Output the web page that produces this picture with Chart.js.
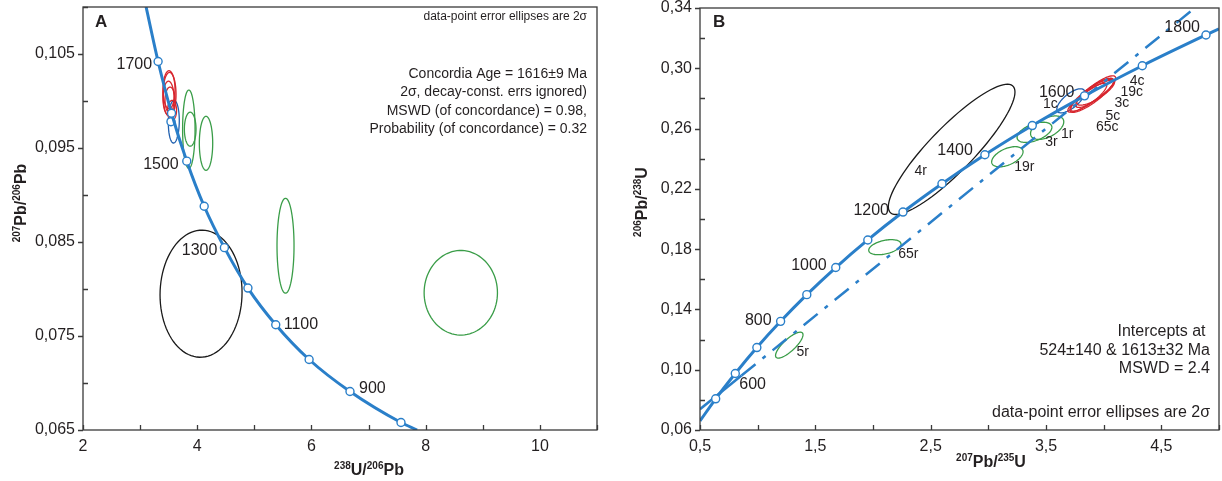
<!DOCTYPE html>
<html>
<head>
<meta charset="utf-8">
<script src="https://cdn.jsdelivr.net/npm/chart.js@4.4.0/dist/chart.umd.min.js"></script>
<style>
  html, body { margin: 0; padding: 0; background: #fff; }
  #boxA { position: absolute; left: 0; top: 0; }
  #boxB { position: absolute; left: 610px; top: 0; }
</style>
</head>
<body>
<div id="boxA"><canvas id="chartA" width="610" height="481"></canvas></div>
<div id="boxB"><canvas id="chartB" width="612" height="481"></canvas></div>
<script>
// zircon spots (same order in both diagrams)
const spots = ['1c', '3c', '4c', '5c', '19c', '65c', '1r', '3r', '4r', '5r', '19r', '65r'];

// A: Tera-Wasserburg, 238U/206Pb vs 207Pb/206Pb, 2 sigma half widths
const twX    = [3.590, 3.515, 3.497, 3.524, 3.559, 3.506, 3.853, 3.877, 4.067, 8.615, 4.154, 5.546];
const twXErr = [0.096, 0.114, 0.096, 0.088, 0.079, 0.105, 0.109, 0.102, 0.718, 0.642, 0.117, 0.149];
const twY    = [0.0978, 0.1007, 0.1003, 0.1001, 0.0990, 0.1012, 0.0970, 0.0970, 0.0795, 0.0796, 0.0955, 0.0846];
const twYErr = [0.00227, 0.00234, 0.00181, 0.00138, 0.00106, 0.00202, 0.00417, 0.00181, 0.00676, 0.00450, 0.00287, 0.00505];
const twRho  = [0.05, 0, 0, 0, 0, 0, 0, 0, 0.02, 0, 0, 0];

// B: Wetherill, 207Pb/235U vs 206Pb/238U
const wX    = [3.715, 3.897, 3.931, 3.871, 3.931, 3.888, 3.510, 3.400, 2.682, 1.274, 3.165, 2.103];
const wXErr = [0.121, 0.190, 0.173, 0.156, 0.164, 0.199, 0.144, 0.151, 0.549, 0.119, 0.136, 0.140];
const wY    = [0.2784, 0.2821, 0.2845, 0.2808, 0.2841, 0.2815, 0.2606, 0.2575, 0.2462, 0.1163, 0.2413, 0.1813];
const wYErr = [0.0080, 0.0113, 0.0105, 0.0093, 0.0086, 0.0106, 0.0078, 0.0067, 0.0432, 0.0086, 0.0067, 0.0050];
const wRho  = [0.7, 0.85, 0.85, 0.85, 0.8, 0.9, 0.5, 0.5, 0.88, 0.8, 0.5, 0.4];

// concordia age marks, A
const twAges = [1700, 1600, 1500, 1400, 1300, 1200, 1100, 1000, 900, 800];
const twAgeX = [3.315, 3.550, 3.817, 4.122, 4.476, 4.888, 5.375, 5.959, 6.675, 7.568];
const twAgeY = [0.1042, 0.0987, 0.0936, 0.0888, 0.0844, 0.0801, 0.0762, 0.0725, 0.0691, 0.0658];
const twCurveStart = [3.105, 0.1100];
const twCurveEnd = [7.85, 0.0650];
const twExtraPoint = [3.54, 0.0978];

// concordia age marks, B
const wAges = [500, 600, 700, 800, 900, 1000, 1100, 1200, 1300, 1400, 1500, 1600, 1700, 1800];
const wAgeX = [0.636, 0.806, 0.993, 1.199, 1.426, 1.677, 1.955, 2.260, 2.598, 2.970, 3.381, 3.834, 4.335, 4.887];
const wAgeY = [0.0807, 0.0975, 0.1147, 0.1321, 0.1498, 0.1678, 0.1861, 0.2046, 0.2234, 0.2426, 0.2620, 0.2817, 0.3017, 0.3221];
const wCurveStart = [0.5, 0.0660];
const wCurveEnd = [5.0, 0.3261];

// discordia (intercepts 524 and 1613 Ma)
const discX = [0.5, 0.86, 4.79];
const discY = [0.0738, 0.0961, 0.34];

const textA = ['Concordia Age = 1616\u00b19 Ma', '2\u03c3, decay-const. errs ignored)', 'MSWD (of concordance) = 0.98,', 'Probability (of concordance) = 0.32'];
const textB = ['Intercepts at ', '524\u00b1140 & 1613\u00b132 Ma', 'MSWD = 2.4'];
const noteText = 'data-point error ellipses are 2\u03c3';

// ---- styles ----
const FONT = "'Liberation Sans', Arial, Helvetica, sans-serif";
const INK = '#231f20';
const CURVE = '#2a7fc9';
const spotColor = ['#1f5fae', '#d7262e', '#d7262e', '#d7262e', '#d7262e', '#d7262e',
                   '#3a9d48', '#3a9d48', '#1a1a1a', '#3a9d48', '#3a9d48', '#3a9d48'];

// label offsets in px: [dx, dy, align]
const twAgeLabels = { 1700: [-6, 3, 'right'], 1500: [-8, 3, 'right'], 1300: [-7, 3, 'right'], 1100: [8, 0, 'left'], 900: [9, -3, 'left'] };
const wAgeLabels = { 1800: [-6, -7, 'right'], 1600: [-10, -3, 'right'], 1400: [-12, -4, 'right'], 1200: [-14, -1.5, 'right'],
                     1000: [-9, -2, 'right'], 800: [-9, -1, 'right'], 600: [4, 11, 'left'] };
const wSpotLabels = { '4r': [-31, 22], '65r': [23.5, 6.5], '5r': [13.5, 7], '19r': [17, 10], '3r': [17, 10], '1r': [20, 6],
                      '1c': [-20.5, 3.5], '4c': [41.5, -10.4], '19c': [36, 0], '3c': [30, 8], '5c': [24, 19], '65c': [16.5, 31] };

function pts(xs, ys) { return xs.map((v, i) => ({ x: v, y: ys[i] })); }
function fmt(v, d) { return v.toFixed(d).replace('.', ','); }

function concordia(start, xs, ys, end) {
  return [{ x: start[0], y: start[1] }].concat(pts(xs, ys), [{ x: end[0], y: end[1] }]);
}

function drawEllipses(chart, cx, sx, cy, sy, rho) {
  const { ctx, chartArea: a, scales: { x, y } } = chart;
  ctx.save();
  ctx.beginPath();
  ctx.rect(a.left, a.top, a.right - a.left, a.bottom - a.top);
  ctx.clip();
  ctx.lineWidth = 1.3;
  cx.forEach((c, i) => {
    const q = Math.sqrt(1 - rho[i] * rho[i]);
    ctx.beginPath();
    for (let k = 0; k <= 90; k++) {
      const t = k / 90 * 2 * Math.PI;
      const px = x.getPixelForValue(c + sx[i] * Math.cos(t));
      const py = y.getPixelForValue(cy[i] + sy[i] * (rho[i] * Math.cos(t) + q * Math.sin(t)));
      if (k === 0) ctx.moveTo(px, py); else ctx.lineTo(px, py);
    }
    ctx.closePath();
    ctx.strokeStyle = spotColor[i];
    ctx.stroke();
  });
  ctx.restore();
}

function drawFrame(chart) {
  const { ctx, chartArea: a, scales: { x, y } } = chart;
  ctx.save();
  ctx.strokeStyle = '#3a3a3a';
  ctx.lineWidth = 1.3;
  ctx.strokeRect(a.left, a.top, a.right - a.left, a.bottom - a.top);
  ctx.beginPath();
  x.ticks.forEach(t => {
    const px = Math.round(x.getPixelForValue(t.value)) + 0.5;
    ctx.moveTo(px, a.bottom); ctx.lineTo(px, a.bottom - 5);
  });
  y.ticks.forEach(t => {
    const py = Math.round(y.getPixelForValue(t.value)) + 0.5;
    if (t.label !== '') { ctx.moveTo(a.left - 5, py); ctx.lineTo(a.left, py); }
    else { ctx.moveTo(a.left, py); ctx.lineTo(a.left + 5, py); }
  });
  ctx.stroke();
  ctx.restore();
}

// text with superscript parts: [[text, isSup], ...]
function richText(ctx, parts, x, y, rot) {
  ctx.save();
  ctx.translate(x, y);
  if (rot) ctx.rotate(rot);
  const big = 'bold 16px ' + FONT, small = 'bold 10px ' + FONT;
  let w = 0;
  parts.forEach(p => { ctx.font = p[1] ? small : big; w += ctx.measureText(p[0]).width; });
  let cx = -w / 2;
  ctx.fillStyle = INK;
  ctx.textBaseline = 'alphabetic';
  ctx.textAlign = 'left';
  parts.forEach(p => {
    ctx.font = p[1] ? small : big;
    ctx.fillText(p[0], cx, p[1] ? -6 : 0);
    cx += ctx.measureText(p[0]).width;
  });
  ctx.restore();
}

function label(ctx, s, x, y, align, size, weight) {
  ctx.font = (weight || 'normal') + ' ' + size + 'px ' + FONT;
  ctx.fillStyle = INK;
  ctx.textAlign = align;
  ctx.textBaseline = 'middle';
  ctx.fillText(s, x, y);
}

function axisCfg(min, max, step, dec, size, isX) {
  return {
    type: 'linear', min: min, max: max,
    border: { display: false },
    grid: { display: false, drawTicks: false },
    ticks: {
      stepSize: step, autoSkip: false, maxRotation: 0, padding: isX ? 7 : 8,
      color: INK, font: { family: FONT, size: 16 },
      callback: (v, i) => (i % 2 === 0 ? fmt(v, dec) : '')
    },
    afterFit: s => {
      if (isX) s.height = 51; else s.width = size;
      s.paddingTop = 0; s.paddingBottom = 0; s.paddingLeft = 0; s.paddingRight = 0;
    }
  };
}

const markerStyle = {
  showLine: true, borderColor: CURVE, borderWidth: 3, cubicInterpolationMode: 'monotone',
  pointBackgroundColor: '#fff', pointBorderColor: CURVE, pointBorderWidth: 1.4
};

// ---------- A ----------
const concA = concordia(twCurveStart, twAgeX, twAgeY, twCurveEnd);
new Chart('chartA', {
  type: 'scatter',
  data: {
    datasets: [
      Object.assign({ data: concA, pointRadius: concA.map((p, i) => (i === 0 || i === concA.length - 1) ? 0 : 4) }, markerStyle),
      { data: [{ x: twExtraPoint[0], y: twExtraPoint[1] }], pointRadius: 4, pointBackgroundColor: '#fff', pointBorderColor: CURVE, pointBorderWidth: 1.4 }
    ]
  },
  options: {
    responsive: false, animation: false,
    layout: { padding: { top: 7, right: 13, left: 0, bottom: 0 } },
    plugins: { legend: { display: false }, tooltip: { enabled: false } },
    scales: { x: axisCfg(2, 11, 1, 0, 0, true), y: axisCfg(0.065, 0.110, 0.005, 3, 83, false) }
  },
  plugins: [{
    id: 'tw',
    beforeDatasetsDraw(chart) { drawEllipses(chart, twX, twXErr, twY, twYErr, twRho); },
    afterDraw(chart) {
      const { ctx, chartArea: a, scales: { x, y } } = chart;
      drawFrame(chart);
      twAges.forEach((age, i) => {
        const o = twAgeLabels[age];
        if (!o) return;
        label(ctx, String(age), x.getPixelForValue(twAgeX[i]) + o[0], y.getPixelForValue(twAgeY[i]) + o[1], o[2], 16);
      });
      label(ctx, 'A', 95, 22, 'left', 17, 'bold');
      label(ctx, noteText, a.right - 10, 17, 'right', 12);
      textA.forEach((s, i) => label(ctx, s, a.right - 10, 74 + i * 18.5, 'right', 14));
      richText(ctx, [['238', 1], ['U/', 0], ['206', 1], ['Pb', 0]], 369, 475, 0);
      richText(ctx, [['207', 1], ['Pb/', 0], ['206', 1], ['Pb', 0]], 25.5, 203, -Math.PI / 2);
    }
  }]
});

// ---------- B ----------
const concB = concordia(wCurveStart, wAgeX, wAgeY, wCurveEnd);
new Chart('chartB', {
  type: 'scatter',
  data: {
    datasets: [
      Object.assign({ data: concB, pointRadius: concB.map((p, i) => (i === 0 || i === concB.length - 1) ? 0 : 4) }, markerStyle),
      { data: pts(discX.slice(0, 2), discY.slice(0, 2)), showLine: true, borderColor: CURVE, borderWidth: 2.5, pointRadius: 0 },
      { data: pts(discX.slice(1), discY.slice(1)), showLine: true, borderColor: CURVE, borderWidth: 2.5, pointRadius: 0, borderDash: [18, 9, 4, 9] }
    ]
  },
  options: {
    responsive: false, animation: false,
    layout: { padding: { top: 8, right: 3, left: 0, bottom: 0 } },
    plugins: { legend: { display: false }, tooltip: { enabled: false } },
    scales: { x: axisCfg(0.5, 5.0, 0.5, 1, 0, true), y: axisCfg(0.06, 0.34, 0.02, 2, 90, false) }
  },
  plugins: [{
    id: 'wet',
    beforeDatasetsDraw(chart) { drawEllipses(chart, wX, wXErr, wY, wYErr, wRho); },
    afterDraw(chart) {
      const { ctx, chartArea: a, scales: { x, y } } = chart;
      drawFrame(chart);
      wAges.forEach((age, i) => {
        const o = wAgeLabels[age];
        if (!o) return;
        label(ctx, String(age), x.getPixelForValue(wAgeX[i]) + o[0], y.getPixelForValue(wAgeY[i]) + o[1], o[2], 16);
      });
      spots.forEach((s, i) => {
        const o = wSpotLabels[s];
        label(ctx, s, x.getPixelForValue(wX[i]) + o[0], y.getPixelForValue(wY[i]) + o[1], 'center', 14);
      });
      label(ctx, 'B', 103, 22, 'left', 17, 'bold');
      textB.forEach((s, i) => label(ctx, s, a.right - 9, 332 + i * 18.5, 'right', 16));
      label(ctx, noteText, a.right - 9, 413, 'right', 16);
      richText(ctx, [['207', 1], ['Pb/', 0], ['235', 1], ['U', 0]], 381, 467, 0);
      richText(ctx, [['206', 1], ['Pb/', 0], ['238', 1], ['U', 0]], 37, 202, -Math.PI / 2);
    }
  }]
});
</script>
</body>
</html>
